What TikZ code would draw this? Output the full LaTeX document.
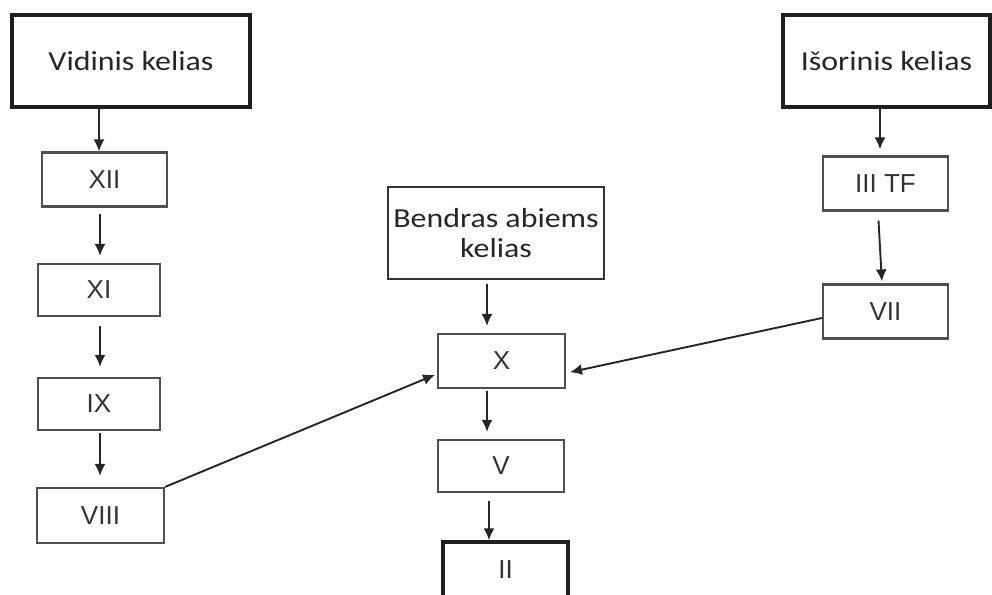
\documentclass[tikz,border=0pt]{standalone}
\usepackage{fontspec}
\setmainfont[FakeStretch=1.16]{Carlito}
\newfontfamily\romfont{Liberation Sans}
\usetikzlibrary{arrows.meta}
\definecolor{boxline}{HTML}{505050}
\definecolor{txt}{HTML}{333333}
\tikzset{
  box/.style={draw=boxline, line width=2.2pt, minimum height=54pt, inner sep=0pt,
    text=txt, font=\romfont\fontsize{26}{30}\selectfont},
  thickbox/.style={box, draw=black!88, line width=3.5pt, text=black!85, font=\fontsize{27.5}{30}\selectfont},
  midbox/.style={box, draw=black!80, line width=2.5pt, text=black!85, font=\fontsize{27.5}{30}\selectfont},
  arr/.style={-{Latex[length=12pt,width=11pt]}, line width=1.9pt, draw=black!85},
}
\begin{document}
\begin{tikzpicture}[x=1pt,y=-1pt]
      \useasboundingbox (0,0) rectangle (992,594);
      \clip (0,0) rectangle (992,594);
      \draw
        (131,61) node[thickbox, minimum width=238pt, minimum height=92pt] (vid){Vidinis kelias}
        (886.5,61) node[thickbox, minimum width=207pt, minimum height=92pt] (isor){Išorinis kelias}
        (104.5,179.5) node[box, minimum width=125pt] (xii){XII}
        (99,290) node[box, minimum width=122pt, minimum height=52pt] (xi){XI}
        (99,404) node[box, minimum width=122pt, minimum height=52pt] (ix){IX}
        (100.5,515.5) node[box, minimum width=127pt, minimum height=55pt] (viii){VIII}
        (496,233) node[midbox, minimum width=216pt, minimum height=92pt, align=center] (bend){Bendras abiems\\kelias}
        (501.5,361) node[box, minimum width=127pt] (x){X}
        (501,466) node[box, minimum width=126pt, minimum height=52pt] (v){V}
        (505.5,570) node[thickbox, text=txt, font=\romfont\fontsize{26}{30}\selectfont, minimum width=125pt, minimum height=56pt] (ii){II}
        (885.5,183.5) node[box, minimum width=125pt] (iiitf){III TF}
        (885.5,311.5) node[box, minimum width=125pt] (vii){VII};
      \begin{scope}[arr]
        \draw ([xshift=-5.5pt]xii.north |- vid.south) to ([xshift=-5.5pt]xii.north);
        \draw[shorten <=6pt, shorten >=7pt] ([xshift=-4.5pt]xii.south) to ([xshift=1pt]xi.north);
        \draw[shorten <=9pt, shorten >=10pt] ([xshift=1pt]xi.south) to ([xshift=1pt]ix.north);
        \draw[shorten <=2pt, shorten >=11pt] ([xshift=1pt]ix.south) to ([xshift=-0.5pt]viii.north);
        \draw[shorten <=4pt, shorten >=7pt] ([xshift=-9pt]bend.south) to ([xshift=-14.5pt]x.north);
        \draw[shorten <=2pt, shorten >=7pt] ([xshift=-14.5pt]x.south) to ([xshift=-14pt]v.north);
        \draw[shorten <=8pt] ([xshift=-12pt]v.south) to ([xshift=-16.5pt]ii.north);
        \draw[shorten >=6pt] ([xshift=-6.5pt]isor.south) to ([xshift=-5.5pt]iiitf.north);
        \draw[shorten <=9pt, shorten >=2pt] ([xshift=-7.5pt]iiitf.south) to ([xshift=-3.5pt]vii.north);
        \draw[shorten >=2pt] (viii.north east) to ([yshift=-13pt]x.west);
        \draw[shorten >=4pt] ([yshift=-6.5pt]vii.west) to ([yshift=-12pt]x.east);
      \end{scope}
    \end{tikzpicture}
\end{document}
